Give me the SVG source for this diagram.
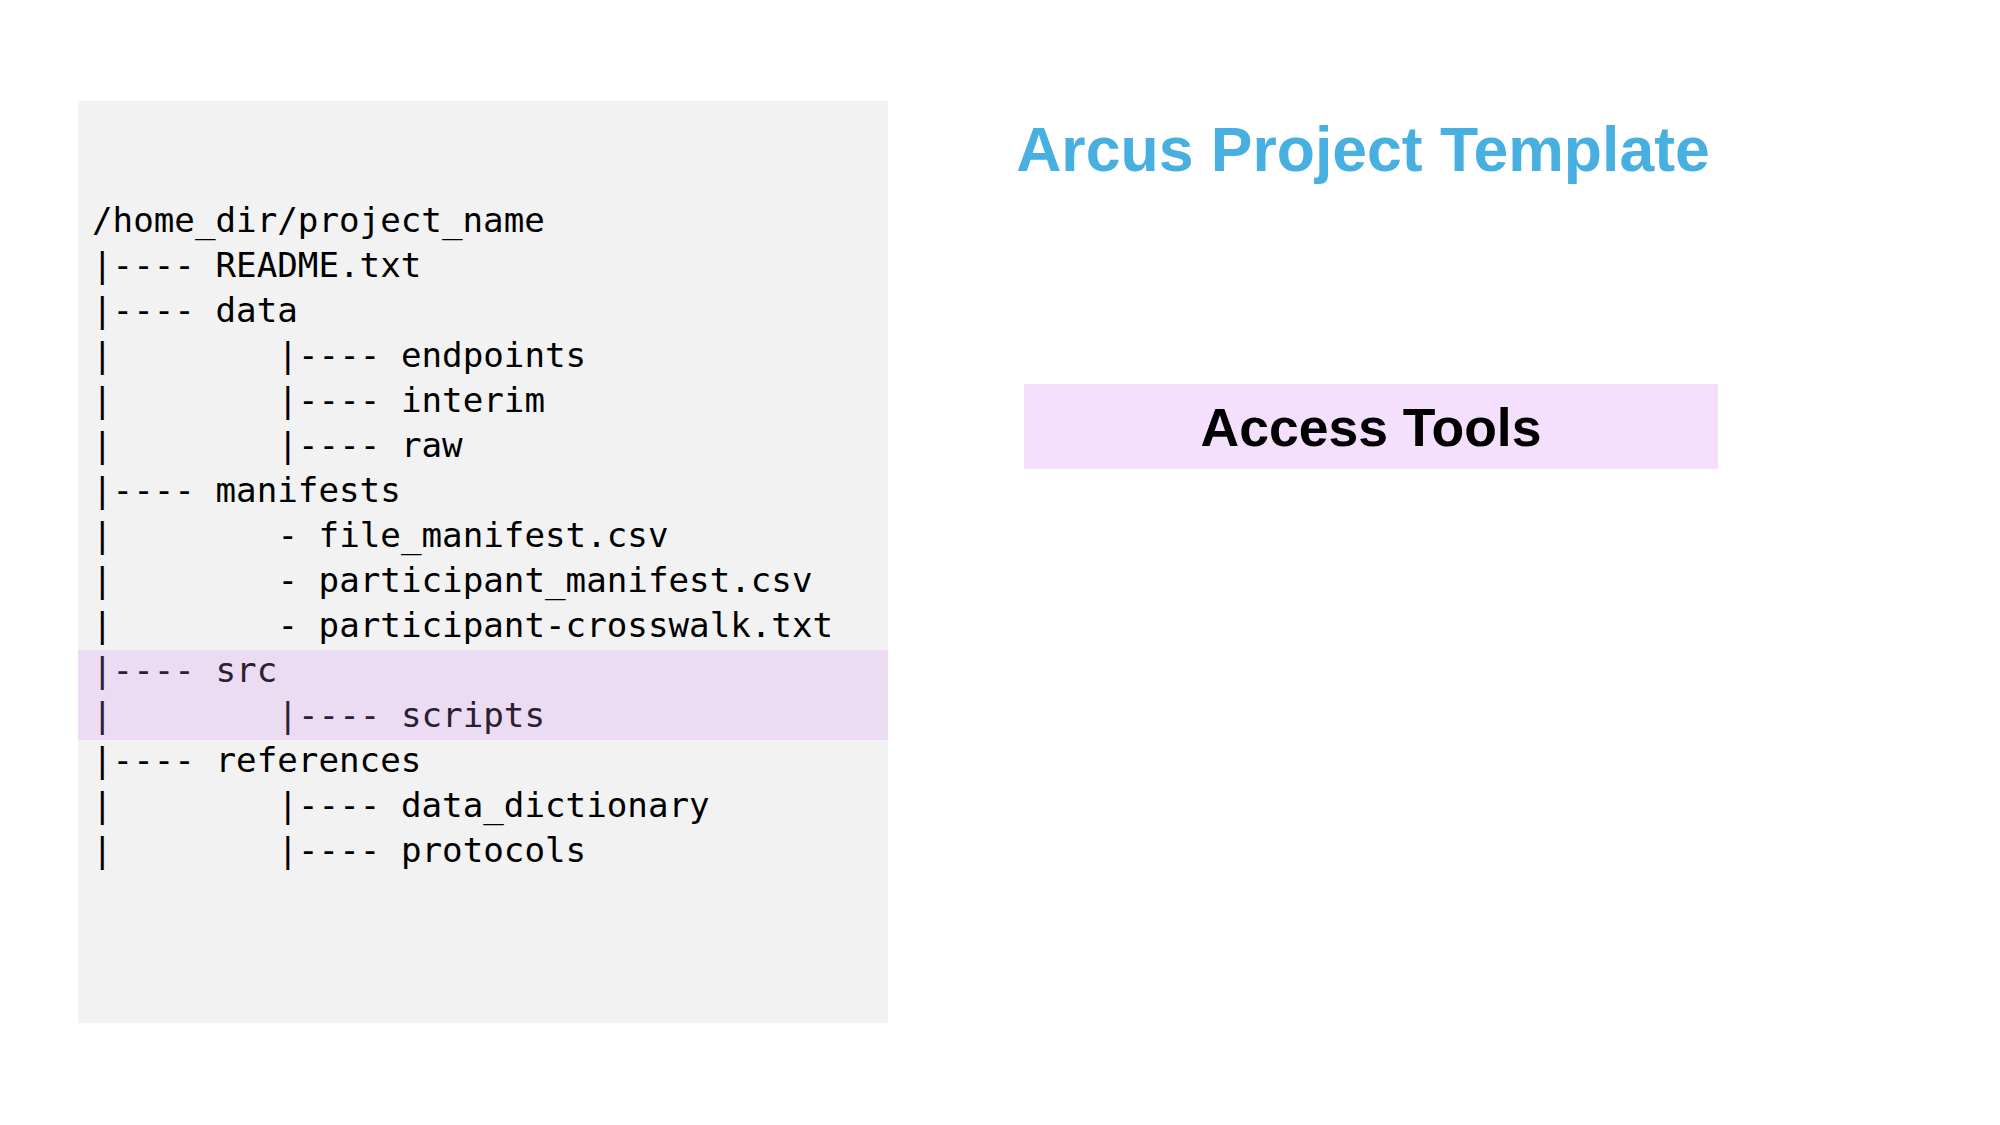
<svg xmlns="http://www.w3.org/2000/svg" width="2000" height="1125" viewBox="0 0 2000 1125">
<style>
.tree{font-family:"DejaVu Sans Mono","Liberation Mono",monospace;font-size:34.2px;fill:#000}
.hl{fill:#2a2030}
.title{font-family:"Liberation Sans",Arial,sans-serif;font-weight:bold;font-size:62.5px;fill:#47B0E0}
.btn{font-family:"Liberation Sans",Arial,sans-serif;font-weight:bold;font-size:53.5px;fill:#000}
</style>
<rect width="2000" height="1125" fill="#fff"/>
<g id="tree-panel">
<rect x="78" y="101" width="810" height="922" fill="#F2F2F2"/>
<rect x="78" y="650" width="810" height="90" fill="#EBDCF3"/>
<g class="tree">
<text x="92" y="232">/home_dir/project_name</text>
<text x="92" y="277">|---- README.txt</text>
<text x="92" y="322">|---- data</text>
<text y="367"><tspan x="92">|</tspan><tspan x="277.4">|---- endpoints</tspan></text>
<text y="412"><tspan x="92">|</tspan><tspan x="277.4">|---- interim</tspan></text>
<text y="457"><tspan x="92">|</tspan><tspan x="277.4">|---- raw</tspan></text>
<text x="92" y="502">|---- manifests</text>
<text y="547"><tspan x="92">|</tspan><tspan x="277.4">- file_manifest.csv</tspan></text>
<text y="592"><tspan x="92">|</tspan><tspan x="277.4">- participant_manifest.csv</tspan></text>
<text y="637"><tspan x="92">|</tspan><tspan x="277.4">- participant-crosswalk.txt</tspan></text>
<text class="hl" x="92" y="682">|---- src</text>
<text class="hl" y="727"><tspan x="92">|</tspan><tspan x="277.4">|---- scripts</tspan></text>
<text x="92" y="772">|---- references</text>
<text y="817"><tspan x="92">|</tspan><tspan x="277.4">|---- data_dictionary</tspan></text>
<text y="862"><tspan x="92">|</tspan><tspan x="277.4">|---- protocols</tspan></text>
</g>
</g>
<g id="title">
<text class="title" x="1363" y="171" text-anchor="middle">Arcus Project Template</text>
</g>
<g id="access-tools">
<rect x="1024" y="384" width="694" height="85" fill="#F4DFFC"/>
<text class="btn" x="1371" y="446" text-anchor="middle">Access Tools</text>
</g>
<g id="connectors"/>
</svg>
